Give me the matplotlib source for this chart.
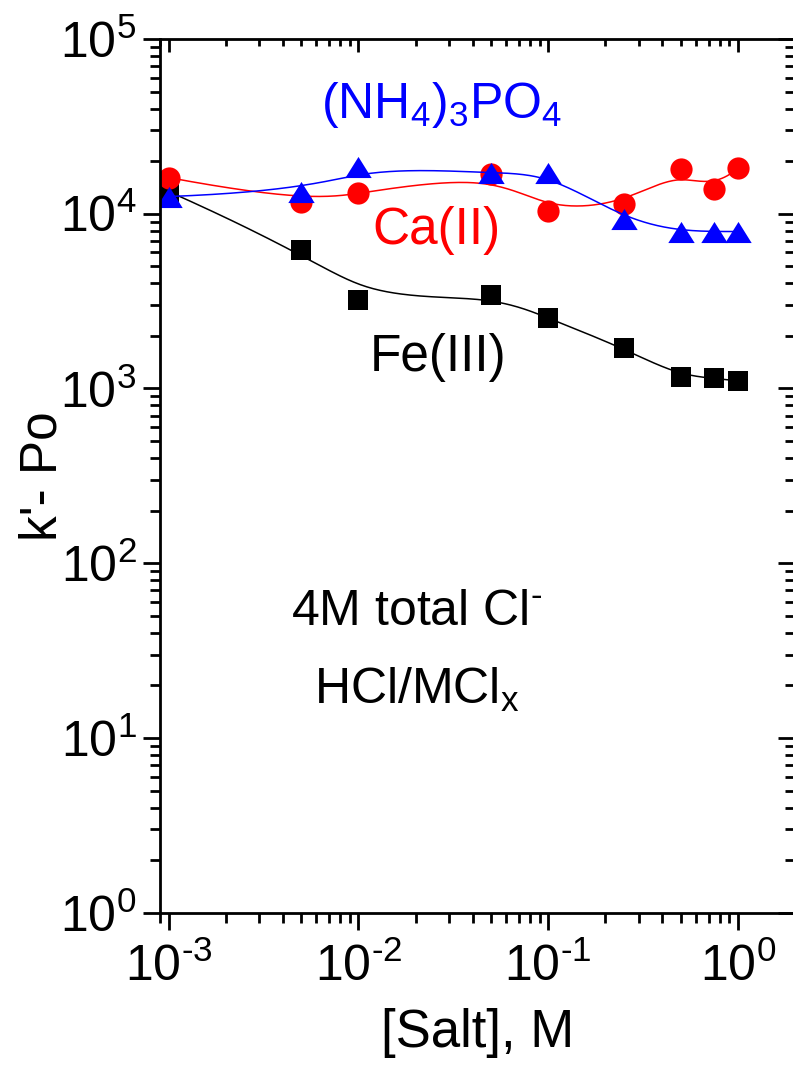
import matplotlib
matplotlib.use("Agg")
import matplotlib.pyplot as plt
from matplotlib.ticker import LogLocator, NullFormatter, FuncFormatter
import numpy as np

plt.rcParams['font.family'] = ['Liberation Sans', 'DejaVu Sans']
plt.rcParams['mathtext.fontset'] = 'custom'
plt.rcParams['mathtext.rm'] = 'Liberation Sans'
plt.rcParams['mathtext.it'] = 'Liberation Sans:italic'
plt.rcParams['axes.unicode_minus'] = False

salt = [0.001, 0.005, 0.01, 0.05, 0.1, 0.25, 0.5, 0.75, 1.0]  # salt concentration (M)
k_fe = [13400, 6160, 3215, 3435, 2525, 1702, 1161, 1145, 1106]  # Fe(III)
k_ca = [16100, 11650, 13120, 16920, 10430, 11400, 18000, 13890, 18240]  # Ca(II)
k_nh4 = [12540, 13400, 18630, 17070, 17000, 9350, 7910, 7910, 7910]  # (NH4)3PO4


def bspline(xs, ys, n=300, k=3):
    # clamped cubic B-spline with the points as control points (in log space)
    P = np.column_stack([np.log10(xs), np.log10(ys)])
    m = len(P)
    t = np.concatenate([np.zeros(k), np.linspace(0, 1, m - k + 1), np.ones(k)])
    u = np.linspace(0, 1, n)
    B = ((t[:-1, None] <= u) & (u < t[1:, None])).astype(float)
    B[m - 1, -1] = 1.0
    for d in range(1, k + 1):
        Bn = np.zeros((len(t) - d - 1, n))
        for i in range(len(t) - d - 1):
            a = t[i + d] - t[i]
            b = t[i + d + 1] - t[i + 1]
            if a > 0:
                Bn[i] += (u - t[i]) / a * B[i]
            if b > 0:
                Bn[i] += (t[i + d + 1] - u) / b * B[i + 1]
        B = Bn
    c = B.T @ P
    return 10 ** c[:, 0], 10 ** c[:, 1]


def pow10(v, pos):
    e = int(round(np.log10(v)))
    s = r'\text{-}%d' % -e if e < 0 else '%d' % e
    return r'$\mathregular{10^{%s}}$' % s


tri = [(0, 0.8), (-1, -0.8), (1, -0.8)]

fig = plt.figure(figsize=(7.93, 10.68), dpi=100)
ax = fig.add_axes([0.2018, 0.1454, 0.8008, 0.8181])

for ys, col, mk, ms in [(k_fe, 'black', 's', 14), (k_ca, 'red', 'o', 16), (k_nh4, 'blue', tri, 19)]:
    cx, cy = bspline(salt, ys)
    ax.plot(cx, cy, color=col, lw=1.1)
    ax.plot(salt, ys, linestyle='none', marker=mk, ms=ms, color=col, mec=col, mew=0)

ax.set_xscale('log')
ax.set_yscale('log')
ax.set_xlim(0.0009, 2.0)
ax.set_ylim(1, 1e5)

ax.xaxis.set_major_locator(LogLocator(base=10, numticks=10))
ax.yaxis.set_major_locator(LogLocator(base=10, numticks=10))
ax.xaxis.set_minor_locator(LogLocator(base=10, subs=np.arange(2, 10), numticks=20))
ax.yaxis.set_minor_locator(LogLocator(base=10, subs=np.arange(2, 10), numticks=20))
ax.xaxis.set_major_formatter(FuncFormatter(pow10))
ax.yaxis.set_major_formatter(FuncFormatter(pow10))
ax.xaxis.set_minor_formatter(NullFormatter())
ax.yaxis.set_minor_formatter(NullFormatter())

ax.tick_params(which='major', direction='out', length=12, width=2, labelsize=36)
ax.tick_params(axis='x', which='major', pad=10)
ax.tick_params(axis='y', which='major', pad=5)
ax.tick_params(which='minor', direction='out', length=7, width=2)
for s in ax.spines.values():
    s.set_linewidth(2)

# top and right ticks point inwards
top = ax.secondary_xaxis('top')
top.tick_params(which='major', direction='in', length=9, width=2, labeltop=False)
top.tick_params(which='minor', direction='in', length=5, width=2)
top.xaxis.set_major_locator(LogLocator(base=10, numticks=10))
top.xaxis.set_minor_locator(LogLocator(base=10, subs=np.arange(2, 10), numticks=20))
top.xaxis.set_major_formatter(NullFormatter())
top.xaxis.set_minor_formatter(NullFormatter())
right = ax.secondary_yaxis('right')
right.tick_params(which='major', direction='in', length=12, width=2, labelright=False)
right.tick_params(which='minor', direction='in', length=7, width=2)
right.yaxis.set_major_locator(LogLocator(base=10, numticks=10))
right.yaxis.set_minor_locator(LogLocator(base=10, subs=np.arange(2, 10), numticks=20))
right.yaxis.set_major_formatter(NullFormatter())
right.yaxis.set_minor_formatter(NullFormatter())

ax.set_xlabel('[Salt], M', fontsize=38, labelpad=12)
ax.set_ylabel("k'- Po", fontsize=37)
ax.yaxis.set_label_coords(-0.145, 0.5)

ax.text(0.443, 0.924, r'(NH$_4$)$_3$PO$_4$', color='blue', fontsize=36, ha='center', va='center', transform=ax.transAxes)
ax.text(0.435, 0.781, 'Ca(II)', color='red', fontsize=37, ha='center', va='center', transform=ax.transAxes)
ax.text(0.438, 0.636, 'Fe(III)', color='black', fontsize=37, ha='center', va='center', transform=ax.transAxes)
ax.text(0.405, 0.344, r'4M total Cl$^{\text{-}}$', color='black', fontsize=36, ha='center', va='center', transform=ax.transAxes)
ax.text(0.405, 0.255, r'HCl/MCl$_\mathregular{x}$', color='black', fontsize=36, ha='center', va='center', transform=ax.transAxes)

fig.savefig('out.png', dpi=100)
